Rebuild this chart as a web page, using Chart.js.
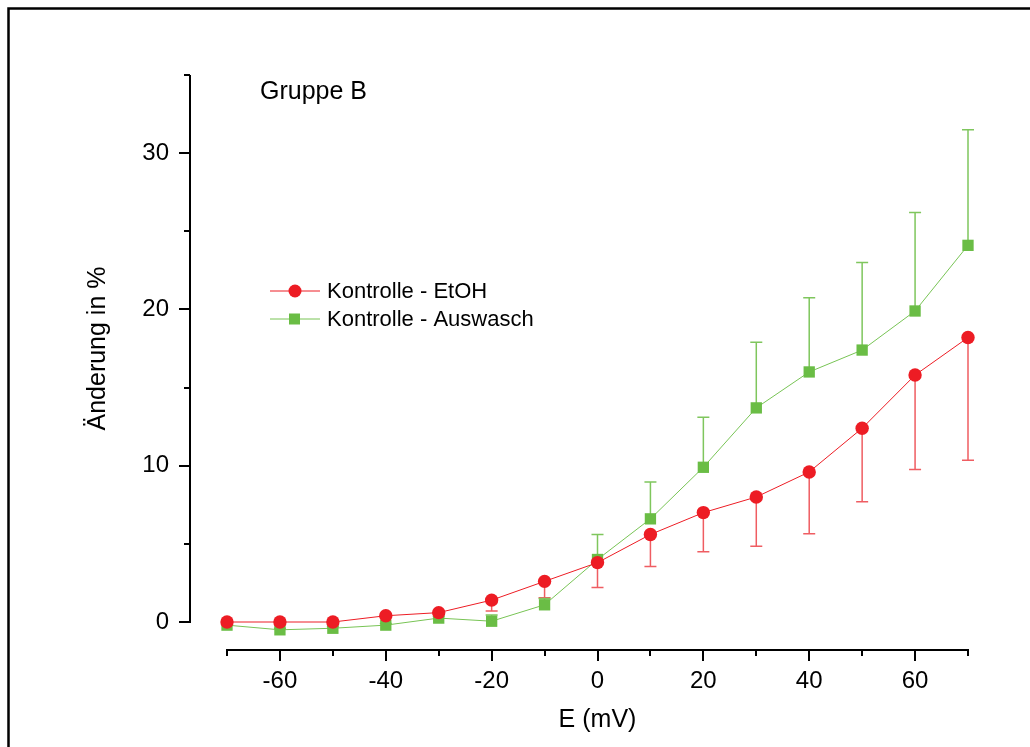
<!DOCTYPE html>
<html>
<head>
<meta charset="utf-8">
<script src="https://cdn.jsdelivr.net/npm/chart.js@4.4.1/dist/chart.umd.min.js"></script>
<style>
  html, body { margin: 0; padding: 0; background: #fff; }
  #wrap { position: relative; width: 1030px; height: 747px; }
</style>
</head>
<body>
<div id="wrap"><canvas id="chart" width="1030" height="747"></canvas></div>
<script>
// Werte
const spannung = [-70, -60, -50, -40, -30, -20, -10, 0, 10, 20, 30, 40, 50, 60, 70];
const etohMittel = [0, 0, 0, 0.4, 0.6, 1.4, 2.6, 3.8, 5.6, 7.0, 8.0, 9.6, 12.4, 15.8, 18.2];
const etohFehler = [0, 0, 0, 0.1, 0.1, 0.7, 1.05, 1.6, 2.05, 2.5, 3.15, 3.95, 4.7, 6.05, 7.85];
const auswaschMittel = [-0.2, -0.5, -0.4, -0.2, 0.25, 0.05, 1.1, 4.0, 6.6, 9.9, 13.7, 16.0, 17.4, 19.9, 24.1];
const auswaschFehler = [0.1, 0.1, 0.1, 0.1, 0.1, 0.4, 0.4, 1.6, 2.35, 3.2, 4.2, 4.75, 5.6, 6.3, 7.4];
const serienNamen = ['Kontrolle - EtOH', 'Kontrolle - Auswasch'];
const gruppe = 'Gruppe B';

const ROT = '#ed1c24';
const GRUEN = '#6abd45';
const FONT = 'Liberation Sans, Arial, sans-serif';

// Fehlerbalken: EtOH nach unten, Auswasch nach oben
const fehlerBalken = {
    id: 'fehlerBalken',
    beforeDatasetsDraw(chart) {
        const { ctx, scales: { x, y } } = chart;
        const reihen = [
            { mittel: etohMittel, fehler: etohFehler, dir: -1, farbe: '#ef5d62' },
            { mittel: auswaschMittel, fehler: auswaschFehler, dir: 1, farbe: '#7fc65d' }
        ];
        ctx.save();
        ctx.lineWidth = 1.5;
        reihen.forEach(r => {
            ctx.strokeStyle = r.farbe;
            spannung.forEach((v, i) => {
                if (!r.fehler[i]) return;
                const px = x.getPixelForValue(v);
                const y0 = y.getPixelForValue(r.mittel[i]);
                const y1 = y.getPixelForValue(r.mittel[i] + r.dir * r.fehler[i]);
                ctx.beginPath();
                ctx.moveTo(px, y0);
                ctx.lineTo(px, y1);
                ctx.moveTo(px - 6, y1);
                ctx.lineTo(px + 6, y1);
                ctx.stroke();
            });
        });
        ctx.restore();
    }
};

// Rahmen, Achsen im Origin-Stil, Legende und Gruppentext
const dekor = {
    id: 'dekor',
    beforeDraw(chart) {
        const { ctx } = chart;
        ctx.save();
        ctx.strokeStyle = '#000';
        ctx.lineWidth = 2.5;
        ctx.beginPath();
        ctx.moveTo(8.5, 747);
        ctx.lineTo(8.5, 8.5);
        ctx.lineTo(1030, 8.5);
        ctx.stroke();
        ctx.restore();
    },
    afterDraw(chart) {
        const { ctx, scales: { x, y } } = chart;
        const yAchseX = 190;
        const xAchseY = 650;
        ctx.save();
        ctx.strokeStyle = '#000';
        ctx.lineWidth = 2;
        ctx.beginPath();
        ctx.moveTo(yAchseX, y.getPixelForValue(0) + 1);
        ctx.lineTo(yAchseX, y.getPixelForValue(35));
        ctx.moveTo(x.getPixelForValue(-70) - 1, xAchseY);
        ctx.lineTo(x.getPixelForValue(70) + 1, xAchseY);
        y.ticks.forEach(t => {
            const py = Math.round(y.getPixelForValue(t.value));
            const len = t.value % 10 === 0 ? 11 : 6;
            ctx.moveTo(yAchseX - len, py);
            ctx.lineTo(yAchseX, py);
        });
        x.ticks.forEach(t => {
            const px = Math.round(x.getPixelForValue(t.value));
            const len = t.value % 20 === 0 ? 11 : 6;
            ctx.moveTo(px, xAchseY);
            ctx.lineTo(px, xAchseY + len);
        });
        ctx.stroke();

        // Gruppe
        ctx.fillStyle = '#000';
        ctx.font = '25px ' + FONT;
        ctx.textBaseline = 'middle';
        ctx.textAlign = 'left';
        ctx.fillText(gruppe, 260, 92);

        // Legende
        ctx.font = '22px ' + FONT;
        chart.data.datasets.forEach((ds, i) => {
            const ly = 291 + i * 28;
            ctx.strokeStyle = ds.borderColor;
            ctx.lineWidth = 1;
            ctx.beginPath();
            ctx.moveTo(270, ly);
            ctx.lineTo(320, ly);
            ctx.stroke();
            ctx.fillStyle = ds.pointBackgroundColor;
            if (ds.pointStyle === 'rect') {
                ctx.fillRect(289, ly - 5.5, 11, 11);
            } else {
                ctx.beginPath();
                ctx.arc(295, ly, 6.5, 0, Math.PI * 2);
                ctx.fill();
            }
            ctx.fillStyle = '#000';
            ctx.fillText(ds.label, 327, ly + 1);
        });
        ctx.restore();
    }
};

const ctx = document.getElementById('chart').getContext('2d');
const chart = new Chart(ctx, {
    type: 'line',
    data: {
        datasets: [
            {
                label: serienNamen[0],
                data: spannung.map((v, i) => ({ x: v, y: etohMittel[i] })),
                borderColor: ROT,
                borderWidth: 1,
                pointStyle: 'circle',
                pointRadius: 6.7,
                pointBackgroundColor: ROT,
                pointBorderWidth: 0,
                clip: false
            },
            {
                label: serienNamen[1],
                data: spannung.map((v, i) => ({ x: v, y: auswaschMittel[i] })),
                borderColor: '#78c455',
                borderWidth: 1,
                pointStyle: 'rect',
                pointRadius: 8,
                pointBackgroundColor: GRUEN,
                pointBorderWidth: 0,
                clip: false
            }
        ]
    },
    options: {
        responsive: false,
        animation: false,
        devicePixelRatio: 1,
        layout: { padding: { left: 0, top: 75, right: 62, bottom: 0 } },
        plugins: {
            legend: { display: false },
            tooltip: { enabled: false }
        },
        scales: {
            x: {
                type: 'linear',
                min: -70,
                max: 70,
                border: { display: false },
                grid: { display: false, drawTicks: false },
                ticks: {
                    stepSize: 10,
                    autoSkip: false,
                    maxRotation: 0,
                    padding: 45,
                    color: '#000',
                    font: { family: FONT, size: 24 },
                    callback: v => (v % 20 === 0 ? String(v) : '')
                },
                title: {
                    display: true,
                    text: 'E (mV)',
                    color: '#000',
                    font: { family: FONT, size: 25 },
                    padding: { top: 0, bottom: 12 }
                },
                afterFit: s => { s.height = 125; }
            },
            y: {
                min: 0,
                max: 35,
                border: { display: false },
                grid: { display: false, drawTicks: false },
                ticks: {
                    stepSize: 5,
                    autoSkip: false,
                    padding: 58,
                    color: '#000',
                    font: { family: FONT, size: 24 },
                    callback: v => (v % 10 === 0 ? String(v) : '')
                },
                title: {
                    display: true,
                    text: 'Änderung in %',
                    color: '#000',
                    font: { family: FONT, size: 25 },
                    padding: { top: 83, bottom: 0 }
                },
                afterFit: s => { s.width = 227; }
            }
        }
    },
    plugins: [fehlerBalken, dekor]
});
</script>
</body>
</html>
